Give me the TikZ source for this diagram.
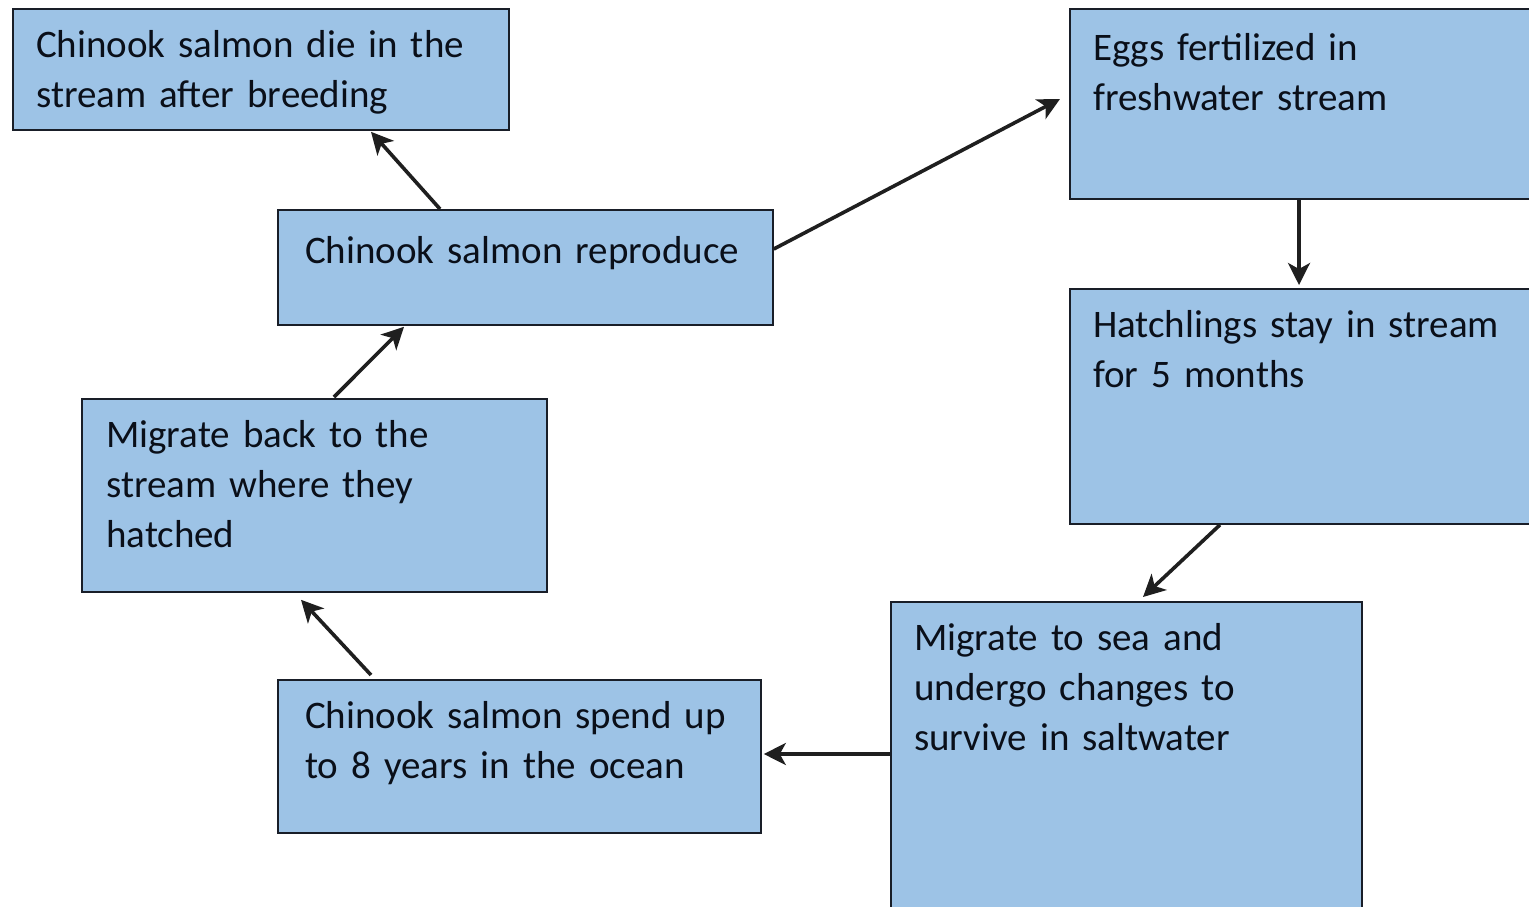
\documentclass[tikz,border=0pt]{standalone}
\usepackage{fontspec}
\setmainfont{Carlito}
\usetikzlibrary{arrows.meta}
\definecolor{boxblue}{RGB}{157,195,230}
\definecolor{boxline}{RGB}{25,30,40}
\definecolor{txt}{RGB}{10,15,25}
\tikzset{
  box/.style={draw=boxline, line width=1.8pt, fill=boxblue, anchor=north west, inner sep=0pt},
  lbl/.style={anchor=base west, inner sep=0pt, text width=#1, align=left, text=txt,
    font=\fontsize{39pt}{50pt}\selectfont},
  lbl/.default=460pt,
  arr/.style={line width=3.6pt, draw=black!88, -{Stealth[length=22pt,width=22pt,inset=6pt]}}
}
\begin{document}
\begin{tikzpicture}[x=1pt,y=-1pt]
\useasboundingbox (0,0) rectangle (1529,906);
\clip (0,0) rectangle (1529,906);
% boxes
\node[box, minimum width=496pt, minimum height=121pt] (a) at (12,8) {};
\node[box, minimum width=495pt, minimum height=115pt] (b) at (277,209) {};
\node[box, minimum width=480pt, minimum height=190pt] (c) at (1069,8) {};
\node[box, minimum width=480pt, minimum height=235pt] (d) at (1069,288) {};
\node[box, minimum width=471pt, minimum height=320pt] (e) at (890,601) {};
\node[box, minimum width=483pt, minimum height=153pt] (f) at (277,679) {};
\node[box, minimum width=465pt, minimum height=193pt] (g) at (81,398) {};
% labels
\node[lbl] (at) at (36,57) {Chinook salmon die in the\\stream after breeding};
\node[lbl] (bt) at (305,263) {Chinook salmon reproduce};
\node[lbl] (ct) at (1093,60) {Eggs fertilized in\\freshwater stream};
\node[lbl] (dt) at (1093,337) {Hatchlings stay in stream\\for 5 months};
\node[lbl] (et) at (914,650) {Migrate to sea and\\undergo changes to\\survive in saltwater};
\node[lbl] (ft) at (305,728) {Chinook salmon spend up\\to 8 years in the ocean};
\node[lbl] (gt) at (106,447) {Migrate back to the\\stream where they\\hatched};
% connectors
\draw[arr] ([xshift=163pt]b.north west) -- ([xshift=359pt,yshift=-1pt]a.south west);
\draw[arr] ([yshift=-40pt]b.north east) -- ([xshift=-9pt,yshift=-91pt]c.north west);
\draw[arr] ([xshift=230pt]c.south west) -- ([xshift=230pt,yshift=3pt]d.north west);
\draw[arr] ([xshift=151pt]d.south west) -- ([xshift=253pt,yshift=4pt]e.north west);
\draw[arr] ([yshift=-153pt]e.north west) -- ([yshift=-75pt,xshift=2pt]f.north east);
\draw[arr] ([xshift=94pt,yshift=4pt]f.north west) -- ([xshift=220pt,yshift=-7pt]g.south west);
\draw[arr] ([xshift=253pt,yshift=1pt]g.north west) -- ([xshift=127pt,yshift=-1pt]b.south west);
\end{tikzpicture}
\end{document}
